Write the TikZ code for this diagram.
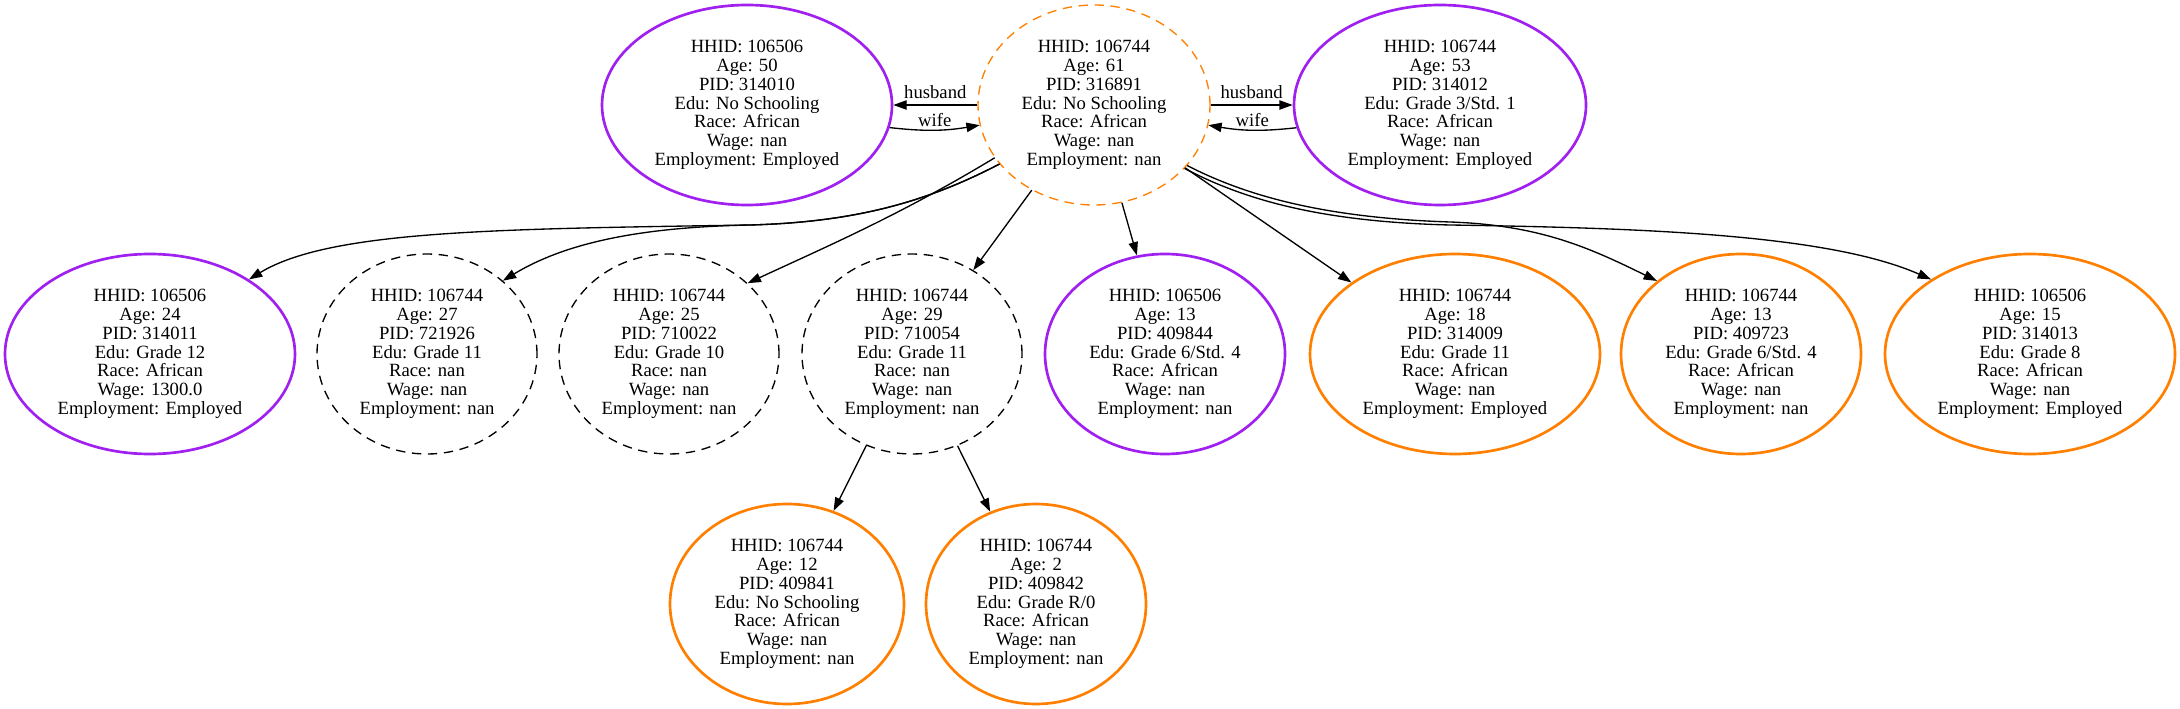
\documentclass[tikz,border=0pt]{standalone}
\usepackage{fontspec}
\setmainfont{Liberation Serif}
\usetikzlibrary{shapes.geometric,arrows.meta}
\definecolor{hhpurple}{HTML}{A020F0}
\definecolor{hhorange}{HTML}{FF7F00}

\begin{document}
\begin{tikzpicture}[x=0.75pt, y=-0.75pt, >={Triangle[length=10pt,width=7pt]},
  person/.style={ellipse, draw, inner sep=0pt, align=center, minimum height=150pt,
    font=\fontsize{14pt}{14.1pt}\selectfont},
  purplebox/.style={person, line width=2pt, draw=hhpurple},
  orangebox/.style={person, line width=2pt, draw=hhorange},
  dashbox/.style={person, line width=1pt, dash pattern=on 7pt off 5pt},
  lbl/.style={font=\fontsize{14pt}{14.1pt}\selectfont, inner sep=1pt},
  link/.style={->, line width=1pt}]
  \useasboundingbox (0,0) rectangle (2180,709);

  % 1. Top row: the head and the two spouses
  \node[dashbox, draw=hhorange, minimum width=174pt] (p316891) at (1094,105)
    {HHID: 106744\\Age: 61\\PID: 316891\\Edu: No Schooling\\Race: African\\Wage: nan\\Employment: nan};
  \node[purplebox, minimum width=217.5pt] (p314010) at (747,105)
    {HHID: 106506\\Age: 50\\PID: 314010\\Edu: No Schooling\\Race: African\\Wage: nan\\Employment: Employed};
  \node[purplebox, minimum width=219pt] (p314012) at (1440,105)
    {HHID: 106744\\Age: 53\\PID: 314012\\Edu: Grade 3/Std. 1\\Race: African\\Wage: nan\\Employment: Employed};

  % 2. Second row: the children of the head
  \node[purplebox, minimum width=217.5pt] (p314011) at (150,354)
    {HHID: 106506\\Age: 24\\PID: 314011\\Edu: Grade 12\\Race: African\\Wage: 1300.0\\Employment: Employed};
  \node[dashbox, minimum width=165pt] (p721926) at (427,354)
    {HHID: 106744\\Age: 27\\PID: 721926\\Edu: Grade 11\\Race: nan\\Wage: nan\\Employment: nan};
  \node[dashbox, minimum width=165pt] (p710022) at (669,354)
    {HHID: 106744\\Age: 25\\PID: 710022\\Edu: Grade 10\\Race: nan\\Wage: nan\\Employment: nan};
  \node[dashbox, minimum width=165pt] (p710054) at (912,354)
    {HHID: 106744\\Age: 29\\PID: 710054\\Edu: Grade 11\\Race: nan\\Wage: nan\\Employment: nan};
  \node[purplebox, minimum width=180pt] (p409844) at (1165,354)
    {HHID: 106506\\Age: 13\\PID: 409844\\Edu: Grade 6/Std. 4\\Race: African\\Wage: nan\\Employment: nan};
  \node[orangebox, minimum width=217.5pt] (p314009) at (1455,354)
    {HHID: 106744\\Age: 18\\PID: 314009\\Edu: Grade 11\\Race: African\\Wage: nan\\Employment: Employed};
  \node[orangebox, minimum width=180pt] (p409723) at (1741,354)
    {HHID: 106744\\Age: 13\\PID: 409723\\Edu: Grade 6/Std. 4\\Race: African\\Wage: nan\\Employment: nan};
  \node[orangebox, minimum width=217.5pt] (p314013) at (2030,354)
    {HHID: 106506\\Age: 15\\PID: 314013\\Edu: Grade 8\\Race: African\\Wage: nan\\Employment: Employed};

  % 3. Third row: the grandchildren
  \node[orangebox, minimum width=175.5pt] (p409841) at (787,604)
    {HHID: 106744\\Age: 12\\PID: 409841\\Edu: No Schooling\\Race: African\\Wage: nan\\Employment: nan};
  \node[orangebox, minimum width=165pt] (p409842) at (1036,604)
    {HHID: 106744\\Age: 2\\PID: 409842\\Edu: Grade R/0\\Race: African\\Wage: nan\\Employment: nan};

  % 4. Spouse links
  \draw[link] (p316891) -- node[lbl, above=3pt] {husband} (p314010);
  \draw[link] (p314010.351) to[bend right=8] node[lbl, above=1pt] {wife} (p316891.190);
  \draw[link] (p316891) -- node[lbl, above=3pt] {husband} (p314012);
  \draw[link] (p314012.189) to[bend left=8] node[lbl, above=1pt] {wife} (p316891.350);

  % 5. Straight links down
  \foreach \kid in {p710054, p409844, p314009}
    \draw[link] (p316891) -- (\kid);
  \foreach \kid in {p409841, p409842}
    \draw[link] (p710054) -- (\kid);

  % 6. Long links, bent to the left and to the right
  \draw[link] (p316891.212) .. controls (930,200) and (860,222) .. (750,225)
    .. controls (500,229) and (330,230) .. (p314011.37);
  \draw[link] (p316891.212) .. controls (930,200) and (860,222) .. (750,225)
    .. controls (650,227) and (570,240) .. (p721926.44);
  \draw[link] (p316891.208) .. controls (900,215) and (830,245) .. (p710022.42);
  \draw[link] (p316891.327) .. controls (1250,198) and (1330,218) .. (1450,222)
    .. controls (1540,225) and (1590,248) .. (p409723.139);
  \draw[link] (p316891.325) .. controls (1250,203) and (1330,222) .. (1450,225)
    .. controls (1650,228) and (1830,235) .. (p314013.143);

\end{tikzpicture}
\end{document}
